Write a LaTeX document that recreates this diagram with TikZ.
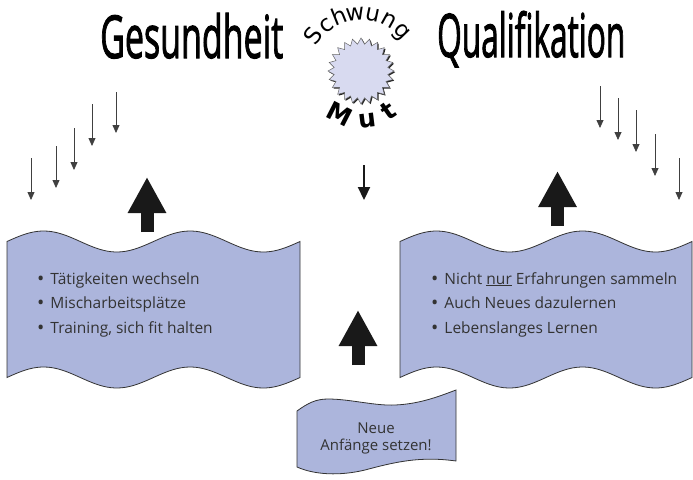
\documentclass[tikz,border=0pt]{standalone}
\usepackage{fontspec}
\usepackage{graphicx}
\setmainfont{Open Sans}
\newfontfamily\arcfont{DejaVu Sans}
\newfontfamily\headfont[FakeBold=2]{Open Sans}
\usetikzlibrary{arrows.meta, shapes.geometric}
\definecolor{wavefill}{RGB}{172,181,220}
\definecolor{starfill}{RGB}{216,218,240}
\definecolor{txtgray}{RGB}{51,51,51}
\newcommand{\listdot}{\raisebox{-1pt}{\scalebox{1.25}{\textbullet}}\hspace{6pt}}

\begin{document}
\begin{tikzpicture}[x=1pt, y=1pt,
    banner/.style={fill=wavefill, draw=black!80, line width=0.8pt},
    item/.style={inner sep=0pt, text=txtgray, font=\fontsize{15.5}{18}\selectfont},
    title/.style={inner sep=0pt, anchor=base west},
    arcletter/.style={inner sep=0pt, anchor=base},
    thinarrow/.style={draw=black!75, line width=0.8pt, -{Triangle[width=7pt,length=8pt]}},
    midarrow/.style={draw=black!90, line width=2.2pt, -{Triangle[width=12pt,length=13pt]}},
    bigarrow/.style={draw=black!90, line width=13pt, -{Triangle[width=36pt,length=36pt]}}]
    \useasboundingbox (0,0) rectangle (693,-479);
    % Titles
    \node[title] (gesund) at (100,-58) {\resizebox{183pt}{45pt}{\headfont Gesundheit}};
    \node[title] (quali) at (437,-57) {\resizebox{188pt}{46pt}{\headfont Qualifikation}};
    % Burst with words round it
    \node[star, star points=24, star point ratio=1.22, minimum size=66pt, inner sep=0pt, fill=black!85] (shadow) at (362.2,-72.2) {};
    \node[star, star points=24, star point ratio=1.22, minimum size=66pt, inner sep=0pt, fill=starfill, draw=black!60, line width=0.5pt] (burst) at (361,-71) {};
    \foreach \ltr/\ang in {S/144, c/127, h/112, w/96, u/78, n/61, g/44}
        \path (burst.center) ++(\ang:51) node[arcletter, rotate=\ang-90] (sw\ang) {\scalebox{2.3}{\arcfont\ltr}};
    \foreach \ltr/\ang in {M/243, u/277, t/305}
        \path (burst.center) ++(\ang:57) node[arcletter, rotate=\ang+90] (mu\ang) {\scalebox{2.5}{\arcfont\bfseries\ltr}};
    % Falling arrows
    \foreach \x/\ya/\yb [count=\i] in {31/158/200, 56/146/188, 74/128/170, 92/104/146, 116/92/133} {
        \coordinate (la\i) at (\x,-\ya);
        \coordinate (lb\i) at (\x,-\yb);
        \draw[thinarrow] (la\i) -- (lb\i);
    }
    \foreach \x/\ya/\yb [count=\i] in {600/86/128, 618/98/140, 636/110/152, 655/134/176, 679/158/200} {
        \coordinate (ra\i) at (\x,-\ya);
        \coordinate (rb\i) at (\x,-\yb);
        \draw[thinarrow] (ra\i) -- (rb\i);
    }
    \coordinate (ma) at (364,-165);
    \coordinate (mb) at (364,-200);
    \draw[midarrow] (ma) -- (mb);
    % Banners
    \draw[banner] plot[domain=7:300, samples=80] (\x, {-241.5+10.5*sin((\x-7)/146.5*360)})
        -- plot[domain=300:7, samples=80] (\x, {-377.5+10.5*sin((\x-7)/146.5*360)}) -- cycle;
    \draw[banner] plot[domain=400:692, samples=80] (\x, {-241.5+10.5*sin((\x-400)/146*360)})
        -- plot[domain=692:400, samples=80] (\x, {-377.5+10.5*sin((\x-400)/146*360)}) -- cycle;
    \draw[banner] (297,-411) .. controls (308,-403) and (316,-399) .. (328,-399)
        .. controls (350,-399) and (375,-406) .. (395,-405)
        .. controls (420,-404) and (440,-396) .. (456,-390) -- (456,-461)
        .. controls (420,-456) and (395,-462) .. (365,-470)
        .. controls (340,-476) and (315,-475) .. (297,-467) -- cycle;
    % Rising arrows
    \coordinate (ga) at (147,-232);
    \coordinate (gb) at (147,-177);
    \coordinate (qa) at (557.5,-226);
    \coordinate (qb) at (557.5,-171);
    \coordinate (na) at (358,-365);
    \coordinate (nb) at (358,-310);
    \draw[bigarrow] (ga) -- (gb);
    \draw[bigarrow] (qa) -- (qb);
    \draw[bigarrow] (na) -- (nb);
    % Lists
    \foreach \t [count=\i] in {T\"atigkeiten wechseln, Mischarbeitspl\"atze, {Training, sich fit halten}}
        \node[item, anchor=base west] (gl\i) at (37,{-284-24.5*(\i-1)}) {\listdot\t};
    \foreach \t [count=\i] in {Nicht \underline{nur} Erfahrungen sammeln, Auch Neues dazulernen, Lebenslanges Lernen}
        \node[item, anchor=base west] (ql\i) at (431,{-284-24.5*(\i-1)}) {\listdot\t};
    \node[item, align=center, font=\fontsize{15}{17}\selectfont] (neu) at (376,-438) {Neue\\Anf\"ange setzen!};
\end{tikzpicture}
\end{document}
